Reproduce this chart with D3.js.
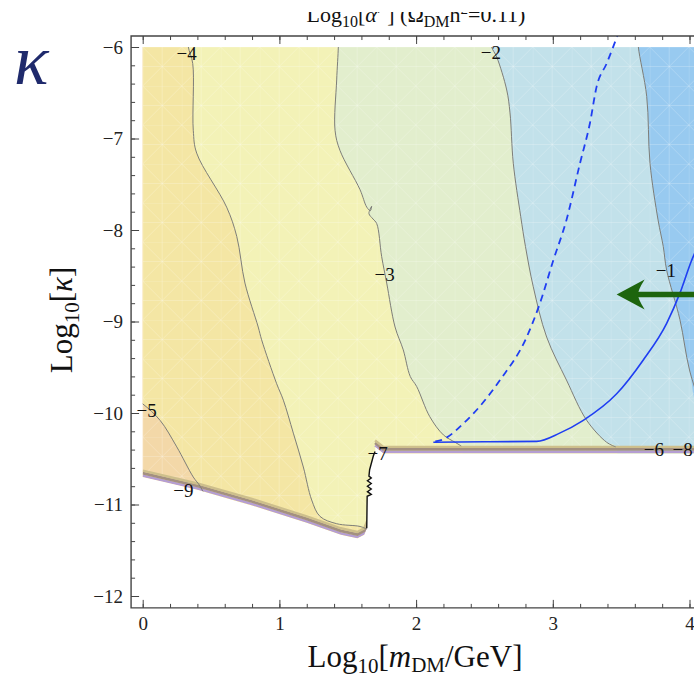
<!DOCTYPE html>
<html><head><meta charset="utf-8">
<script src="https://cdn.jsdelivr.net/npm/d3@7"></script>
<style>body{margin:0;background:#fff} svg{display:block}</style>
</head><body>
<svg id="chart" width="694" height="680"></svg>
<script>
// ---------- data ----------
const xTicks = [0, 1, 2, 3, 4];
const yTicks = [-6, -7, -8, -9, -10, -11, -12];
const contourLevels = [-5, -4, -3, -2, -1];
// contour lines of Log10[alpha'] in (Log10 mDM, Log10 kappa)
const contourM5 = [[-0.1,-9.80],[0,-9.90],[0.127,-10.08],[0.249,-10.37],[0.37,-10.70],[0.42,-10.80],[0.47,-10.95]];
const contourM4 = [[0.334,-5.9],[0.334,-6.0],[0.366,-6.18],[0.370,-6.91],[0.395,-7.16],[0.614,-7.75],[0.688,-8.07],[0.748,-8.58],[0.845,-9.06],[0.87,-9.2],[0.980,-9.68],[1.029,-9.86],[1.102,-10.22],[1.175,-10.59],[1.236,-10.95],[1.297,-11.13],[1.419,-11.21],[1.590,-11.24],[1.64,-11.27]];
const contourM3 = [[1.431,-5.9],[1.431,-6.0],[1.419,-6.36],[1.407,-6.91],[1.443,-7.13],[1.590,-7.56],[1.639,-7.75],[1.665,-7.79],[1.675,-7.74],[1.655,-7.82],[1.685,-7.88],[1.712,-7.93],[1.748,-8.29],[1.785,-8.58],[1.846,-9.06],[1.906,-9.31],[1.957,-9.60],[2.004,-9.71],[2.10,-10.04],[2.20,-10.24],[2.285,-10.32],[2.33,-10.36]];
const contourM2 = [[2.553,-5.9],[2.553,-6.0],[2.590,-6.11],[2.663,-6.47],[2.687,-6.72],[2.711,-7.27],[2.765,-7.85],[2.80,-8.18],[2.857,-8.62],[2.955,-9.17],[3.10,-9.64],[3.248,-10.08],[3.394,-10.32],[3.46,-10.37]];
const contourM1 = [[3.626,-5.9],[3.626,-6.0],[3.687,-6.54],[3.711,-7.27],[3.77,-7.89],[3.808,-8.18],[3.833,-8.44],[3.93,-8.98],[4.0,-9.53],[4.1,-10.0]];
// edge of the allowed (coloured) region
const lowerEdgeSlope = [[0,-10.70],[0.4,-10.84],[0.8,-11.01],[1.2,-11.20],[1.45,-11.33],[1.57,-11.37],[1.62,-11.33],[1.642,-11.25]];
const stepLine = [[1.639,-11.26],[1.642,-10.91],[1.672,-10.89],[1.644,-10.86],[1.672,-10.83],[1.644,-10.80],[1.672,-10.77],[1.644,-10.74],[1.672,-10.71],[1.655,-10.69],[1.66,-10.62],[1.687,-10.47],[1.70,-10.42]];
const lowerEdgeFlat = [[1.70,-10.37],[1.76,-10.44],[4.06,-10.44]];
// relic-density curves
const solidCurve = [[2.126,-10.32],[2.50,-10.315],[2.882,-10.31],[3.05,-10.22],[3.223,-10.08],[3.467,-9.79],[3.662,-9.42],[3.833,-9.02],[3.93,-8.69],[4.016,-8.33],[4.06,-8.18]];
const dashedCurve = [[2.14,-10.31],[2.176,-10.30],[2.37,-10.08],[2.614,-9.64],[2.809,-9.17],[2.906,-8.80],[3.004,-8.33],[3.10,-7.89],[3.199,-7.27],[3.272,-6.83],[3.321,-6.43],[3.394,-6.18],[3.479,-5.85]];
const contourLabels = [
  {t:"\u22124", x:0.322, y:-6.07},
  {t:"\u22122", x:2.547, y:-6.06},
  {t:"\u22123", x:1.770, y:-8.49},
  {t:"\u22121", x:3.827, y:-8.44},
  {t:"\u22125", x:0.029, y:-9.97},
  {t:"\u22129", x:0.297, y:-10.84},
  {t:"\u22127", x:1.718, y:-10.44},
  {t:"\u22126", x:3.740, y:-10.40},
  {t:"\u22128", x:3.95, y:-10.40}
];
const arrowTip = [3.467, -8.705];
const arrowTail = [4.25, -8.705];

// ---------- styles ----------
const bandColors = ["#f3d8a8", "#f4e6a4", "#f3f2b7", "#e2eecd", "#c2e1ea", "#98caf0"];
const serif = "'Liberation Serif','Times New Roman',serif";

const svg = d3.select("#chart");
const x = d3.scaleLinear().domain([0, 4]).range([142.7, 689.5]);
const y = d3.scaleLinear().domain([-6, -12]).range([47, 596]);
const fx0 = x(-0.085), fx1 = x(4.085), fy0 = y(-5.88), fy1 = y(-12.13);

const defs = svg.append("defs");
const line = d3.line().x(d => x(d[0])).y(d => y(d[1]));
const lineCR = d3.line().x(d => x(d[0])).y(d => y(d[1])).curve(d3.curveCatmullRom.alpha(0.5));

// region clip
const region = [[0,-6],[4.06,-6]].concat(lowerEdgeFlat.slice().reverse(), stepLine.slice().reverse(), lowerEdgeSlope.slice().reverse());
defs.append("clipPath").attr("id","regionClip").append("path").attr("d", line(region) + "Z");
defs.append("clipPath").attr("id","frameClip").append("rect")
  .attr("x", fx0).attr("y", fy0).attr("width", fx1 - fx0).attr("height", fy1 - fy0);
defs.append("clipPath").attr("id","titleClip").append("rect")
  .attr("x", 0).attr("y", 12).attr("width", 694).attr("height", 40);

// mesh pattern
const pat = defs.append("pattern").attr("id","mesh").attr("patternUnits","userSpaceOnUse")
  .attr("x", x(0)).attr("y", y(-6)).attr("width", 39).attr("height", 39);
pat.append("path").attr("d","M0,0L39,39M39,0L0,39M0,0H39M0,0V39M19.5,0V39M0,19.5H39")
  .attr("stroke","#fff").attr("stroke-width",0.6).attr("stroke-opacity",0.35).attr("fill","none");

// ---------- coloured bands ----------
const gBands = svg.append("g").attr("clip-path","url(#regionClip)");
gBands.append("rect").attr("x", x(-0.2)).attr("y", y(-5.5)).attr("width", x(4.5)-x(-0.2)).attr("height", y(-12.5)-y(-5.5)).attr("fill", bandColors[0]);
const rightOf = [
  contourM5.concat([[0.6,-12.5],[5,-12.5],[5,-5],[-0.5,-5],[-0.5,-9.8]]),
  contourM4.concat([[1.7,-12.5],[5,-12.5],[5,-5],[0.334,-5]]),
  contourM3.concat([[2.4,-12.5],[5,-12.5],[5,-5],[1.431,-5]]),
  contourM2.concat([[3.5,-12.5],[5,-12.5],[5,-5],[2.553,-5]]),
  contourM1.concat([[5,-10.0],[5,-5],[3.626,-5]])
];
rightOf.forEach((poly, i) => {
  gBands.append("path").attr("d", lineCR(poly) + "Z").attr("fill", bandColors[i+1]);
});
gBands.append("rect").attr("x", x(0)).attr("y", y(-6)).attr("width", x(4.1)-x(0)).attr("height", y(-11.5)-y(-6)).attr("fill","url(#mesh)");

// bunched contours at the edge
const edgeStrokes = [{dy:-1.3, c:"#b59ed2", w:2.6},{dy:-3.9, c:"#a39080", w:2.8},{dy:-6.4, c:"#cdbf8c", w:2.4}];
edgeStrokes.forEach(s => {
  [lowerEdgeSlope, lowerEdgeFlat].forEach(seg => {
    gBands.append("path").attr("d", line(seg)).attr("transform", `translate(0,${s.dy})`)
      .attr("fill","none").attr("stroke", s.c).attr("stroke-width", s.w);
  });
});

// contour lines
[contourM5, contourM4, contourM3, contourM2, contourM1].forEach(c => {
  gBands.append("path").attr("d", lineCR(c)).attr("fill","none").attr("stroke","#7d7d78").attr("stroke-width",1);
});
svg.append("path").attr("d", line(stepLine)).attr("fill","none").attr("stroke","#111").attr("stroke-width",1.4);

// ---------- curves ----------
const gCurves = svg.append("g").attr("clip-path","url(#frameClip)");
const lineMX = d3.line().x(d => x(d[0])).y(d => y(d[1])).curve(d3.curveMonotoneX);
gCurves.append("path").attr("d", lineMX(dashedCurve)).attr("fill","none").attr("stroke","#1f3ef2")
  .attr("stroke-width",1.8).attr("stroke-dasharray","7,5");
gCurves.append("path").attr("d", lineMX(solidCurve)).attr("fill","none").attr("stroke","#1f3ef2").attr("stroke-width",1.6);

// arrow
const tx = x(arrowTip[0]), ty = y(arrowTip[1]);
gCurves.append("line").attr("x1", x(arrowTail[0])).attr("y1", y(arrowTail[1])).attr("x2", tx + 20).attr("y2", ty)
  .attr("stroke","#1d650e").attr("stroke-width",5.5);
gCurves.append("path").attr("transform", `translate(${tx},${ty})`)
  .attr("d","M0,0L28,-15Q21,-4 21.5,0Q21,4 28,15Z").attr("fill","#1d650e");

// contour labels
svg.append("g").selectAll("text").data(contourLabels).join("text")
  .attr("x", d => x(d.x)).attr("y", d => y(d.y)).attr("text-anchor","middle").attr("dy","0.35em")
  .attr("font-family", serif).attr("font-size", 19).attr("fill","#111").text(d => d.t);

// ---------- axes / frame ----------
const fmt = d => d3.format("d")(d).replace("-", "\u2212");
const minorX = d3.range(0, 4.0001, 0.2);
const minorY = d3.range(-12, -5.9999, 0.2);
function styleAxis(g){ g.select(".domain").remove(); g.selectAll("line").attr("stroke","#444").attr("stroke-width",1);
  g.selectAll("text").attr("font-family", serif).attr("font-size",19).attr("fill","#222"); }

svg.append("g").attr("transform",`translate(${fx0},0)`).call(d3.axisLeft(y).tickValues(minorY).tickSize(-4).tickFormat("")).call(styleAxis);
svg.append("g").attr("transform",`translate(${fx0},0)`).call(d3.axisLeft(y).tickValues(yTicks).tickSize(-8).tickPadding(8).tickFormat(fmt)).call(styleAxis);
svg.append("g").attr("transform",`translate(0,${fy1})`).call(d3.axisBottom(x).tickValues(minorX).tickSize(-4).tickFormat("")).call(styleAxis);
svg.append("g").attr("transform",`translate(0,${fy1})`).call(d3.axisBottom(x).tickValues(xTicks).tickSize(-8).tickPadding(9).tickFormat(fmt)).call(styleAxis);
svg.append("g").attr("transform",`translate(0,${fy0})`).call(d3.axisTop(x).tickValues(minorX).tickSize(-4).tickFormat("")).call(styleAxis);
svg.append("g").attr("transform",`translate(0,${fy0})`).call(d3.axisTop(x).tickValues(xTicks).tickSize(-8).tickFormat("")).call(styleAxis);
svg.append("path").attr("d",`M${fx1},${fy0}H${fx0}V${fy1}H${fx1}`).attr("fill","none").attr("stroke","#444").attr("stroke-width",1.4);

// ---------- texts ----------
const title = svg.append("text").attr("clip-path","url(#titleClip)").attr("x", 416).attr("y", 22)
  .attr("text-anchor","middle").attr("font-family", serif).attr("font-size", 22).attr("fill","#111");
title.append("tspan").text("Log");
title.append("tspan").attr("dy", 5).attr("font-size", 16).text("10");
title.append("tspan").attr("dy", -5).text("[");
title.append("tspan").attr("font-style","italic").text("\u03b1");
title.append("tspan").text("\u2032 ]  (");
title.append("tspan").text("\u03a9");
title.append("tspan").attr("dy", 5).attr("font-size", 16).text("DM");
title.append("tspan").attr("dy", -5).text("h");
title.append("tspan").attr("dy", -8).attr("font-size", 15).text("2");
title.append("tspan").attr("dy", 8).text("=0.11)");

const xl = svg.append("text").attr("x", 415).attr("y", 667).attr("text-anchor","middle")
  .attr("font-family", serif).attr("font-size", 31).attr("fill","#111");
xl.append("tspan").text("Log");
xl.append("tspan").attr("dy", 6).attr("font-size", 21).text("10");
xl.append("tspan").attr("dy", -6).text("[");
xl.append("tspan").attr("font-style","italic").text("m");
xl.append("tspan").attr("dy", 5).attr("font-size", 21).text("DM");
xl.append("tspan").attr("dy", -5).text("/GeV]");

const yl = svg.append("text").attr("transform","translate(72,320) rotate(-90)").attr("text-anchor","middle")
  .attr("font-family", serif).attr("font-size", 31).attr("fill","#111");
yl.append("tspan").text("Log");
yl.append("tspan").attr("dy", 7).attr("font-size", 21).text("10");
yl.append("tspan").attr("dy", -7).text("[");
yl.append("tspan").attr("font-style","italic").text("\u03ba");
yl.append("tspan").text("]");

svg.append("text").attr("x", 14).attr("y", 84).attr("font-family", serif).attr("font-style","italic")
  .attr("font-size", 72).attr("fill","#1f2a6c").text("\u03ba");
</script>
</body></html>
